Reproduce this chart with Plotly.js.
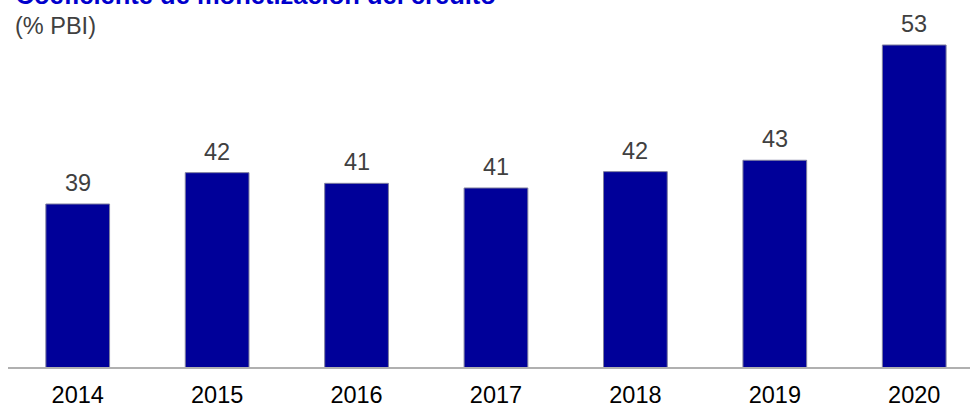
<!DOCTYPE html>
<html>
<head>
<meta charset="utf-8">
<script src="https://cdn.plot.ly/plotly-3.0.1.min.js"></script>
<style>html,body{margin:0;padding:0;background:#fff;}#chart{width:971px;height:407px;}</style>
</head>
<body>
<div id="chart"></div>
<script>
var years = ['2014', '2015', '2016', '2017', '2018', '2019', '2020'];
var values = [39.0, 41.76, 40.82, 40.41, 41.85, 42.85, 53.0];
var labels = ['39', '42', '41', '41', '42', '43', '53'];
var titleText = 'Coeficiente de monetización del crédito';
var subtitleText = '(% PBI)';

var trace = {
  type: 'bar',
  x: years,
  y: values,
  width: 0.457,
  marker: {color: '#000099', line: {color: '#7f7f9f', width: 1}},
  hoverinfo: 'skip'
};

// category axis: annotation x given as the category's serial index
var annotations = years.map(function (yr, i) {
  return {
    x: i, y: values[i], xref: 'x', yref: 'y',
    text: labels[i], showarrow: false,
    yanchor: 'bottom', xanchor: 'center', yshift: 6,
    font: {family: 'Liberation Sans, Arial, sans-serif', size: 23.5, color: '#404040'}
  };
});
annotations.push({
  xref: 'paper', yref: 'paper', x: 0.005, y: 0.983,
  xanchor: 'left', yanchor: 'middle', showarrow: false,
  text: subtitleText,
  font: {family: 'Liberation Sans, Arial, sans-serif', size: 23.5, color: '#404040'}
});

var layout = {
  width: 971, height: 407,
  margin: {l: 8, r: 1, t: 20, b: 40},
  paper_bgcolor: '#ffffff', plot_bgcolor: '#ffffff',
  showlegend: false,
  title: {
    text: '<b>' + titleText + '</b>',
    x: 0.016, xanchor: 'left', xref: 'container',
    y: 0.99, yanchor: 'bottom', yref: 'container',
    font: {family: 'Liberation Sans, Arial, sans-serif', size: 25.5, color: '#0000cc'}
  },
  xaxis: {
    type: 'category',
    range: [-0.5, 6.4],
    showline: true, linecolor: '#b0b0b0', linewidth: 1.5,
    showgrid: false, zeroline: false, ticks: '',
    ticklabelstandoff: 6,
    tickfont: {family: 'Liberation Sans, Arial, sans-serif', size: 23.5, color: '#000000'}
  },
  yaxis: {
    range: [24.65, 55.2],
    showticklabels: false, showline: false, ticks: '',
    showgrid: false, zeroline: false
  },
  annotations: annotations
};

Plotly.newPlot('chart', [trace], layout, {displayModeBar: false, staticPlot: true});
</script>
</body>
</html>
